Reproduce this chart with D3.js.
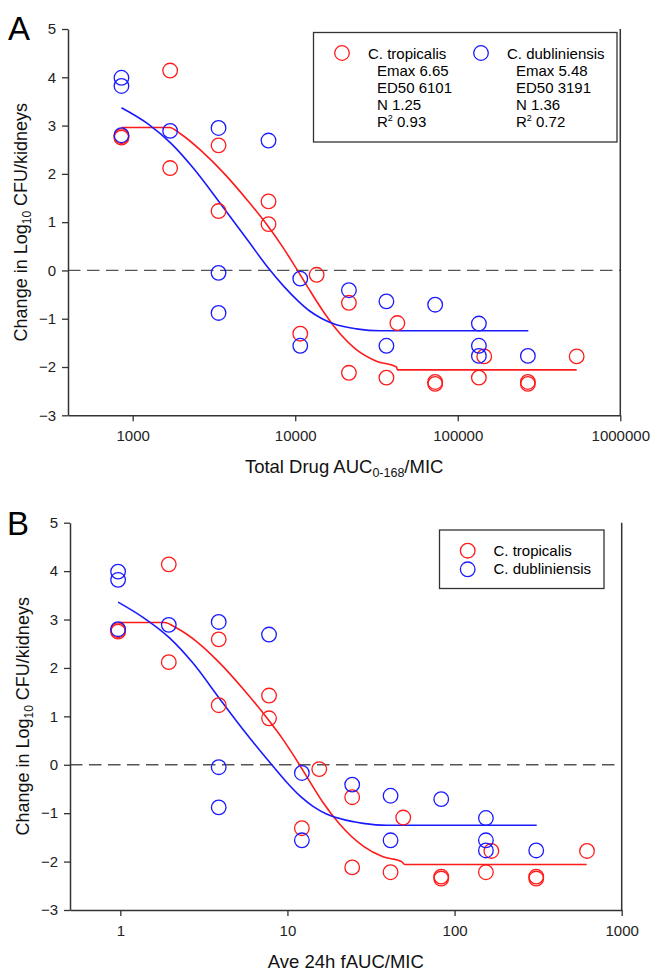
<!DOCTYPE html>
<html>
<head>
<meta charset="utf-8">
<script src="https://cdn.jsdelivr.net/npm/d3@7"></script>
<style>
  html, body { margin: 0; padding: 0; background: #fff; }
  svg { display: block; font-family: "Liberation Sans", Arial, sans-serif; }
</style>
</head>
<body>
<div id="chart"></div>
<script>
// y ticks shared by both panels
const yTicks = [-3, -2, -1, 0, 1, 2, 3, 4, 5]
const xTicksA = [1000, 10000, 100000, 1000000]
const xTicksB = [1, 10, 100, 1000]

// C. tropicalis observations
const tropY = [2.78, 2.75, 4.14, 2.12, 2.59, 1.23, 1.43, 0.96, -1.31, -0.09, -0.67, -2.12, -2.22, -1.09, -2.31, -2.35, -2.22, -1.78, -2.31, -2.35, -1.78]
const tropXA = [853, 853, 1700, 1700, 3375, 3375, 6850, 6850, 10740, 13550, 21400, 21400, 36400, 42500, 72600, 72600, 134900, 145500, 270000, 270000, 539000]
const tropXB = [0.97, 0.97, 1.95, 1.95, 3.88, 3.88, 7.76, 7.76, 12.2, 15.5, 24.4, 24.4, 41.4, 49.3, 83.2, 83.2, 154, 166, 308, 308, 620]

// C. dubliniensis observations
const dublY = [3.99, 3.82, 2.80, 2.89, 2.95, -0.05, -0.88, 2.69, -0.17, -1.56, -0.41, -0.64, -1.56, -0.71, -1.10, -1.56, -1.77, -1.77]
const dublXA = [853, 853, 853, 1700, 3375, 3375, 3375, 6850, 10740, 10740, 21400, 36400, 36400, 72600, 134900, 134900, 134900, 270000]
const dublXB = [0.97, 0.97, 0.97, 1.95, 3.88, 3.88, 3.88, 7.76, 12.2, 12.2, 24.4, 41.4, 41.4, 83.2, 154, 154, 154, 308]

// fitted curves
const tropFitXA = [853, 1683, 1986, 2636, 3673, 5117, 6792, 8204, 9908, 12023, 14825, 17906, 23768, 31623, 41976, 42500, 539000]
const tropFitYA = [2.96, 2.96, 2.82, 2.48, 2.00, 1.44, 0.92, 0.53, 0.10, -0.36, -0.84, -1.22, -1.64, -1.88, -2.00, -2.06, -2.06]
const dublFitXA = [853, 1236, 1722, 2399, 3508, 5117, 6792, 8511, 10471, 12274, 14454, 17061, 23768, 33113, 271700]
const dublFitYA = [3.37, 3.04, 2.63, 2.09, 1.36, 0.62, 0.06, -0.33, -0.64, -0.84, -0.99, -1.10, -1.21, -1.25, -1.25]

const tropFitXB = [0.97, 1.84, 2.16, 2.85, 3.94, 5.42, 7.48, 9.42, 11.32, 13.9, 16.33, 20.56, 28.38, 37.33, 48.19, 50.4, 617]
const tropFitYB = [2.94, 2.94, 2.83, 2.55, 2.10, 1.57, 0.98, 0.52, 0.10, -0.40, -0.78, -1.23, -1.68, -1.90, -2.00, -2.06, -2.06]
const dublFitXB = [0.97, 1.36, 1.97, 2.72, 3.94, 5.68, 7.83, 9.77, 12.02, 14.22, 16.98, 20.56, 28.38, 39.17, 310]
const dublFitYB = [3.36, 3.05, 2.62, 2.10, 1.36, 0.64, 0.05, -0.34, -0.66, -0.86, -1.01, -1.11, -1.21, -1.25, -1.25]

const RED = '#ff1a1a'
const BLUE = '#1a1aff'
const AXIS = '#333'

const W = 653, H = 973
const svg = d3.select('#chart').append('svg')
  .attr('width', W).attr('height', H)

function zip(xs, ys) { return xs.map((x, i) => ({ x, y: ys[i] })) }

function drawPanel(cfg) {
  const x = d3.scaleLog().domain(cfg.xDomain).range([cfg.left, cfg.right])
  const y = d3.scaleLinear().domain([-3, 5]).range([cfg.bottom, cfg.top])
  const g = svg.append('g')

  // zero reference line
  g.append('line')
    .attr('x1', cfg.left).attr('x2', cfg.right)
    .attr('y1', y(0)).attr('y2', y(0))
    .attr('stroke', '#555').attr('stroke-width', 1.3)
    .attr('stroke-dasharray', '12.5,6.5')

  // axes
  const yAxis = g.append('g')
    .attr('transform', `translate(${cfg.left},0)`)
    .call(d3.axisLeft(y).tickValues(yTicks).tickFormat(d3.format('d')).tickSize(6).tickSizeOuter(0).tickPadding(6))
  const xAxis = g.append('g')
    .attr('transform', `translate(0,${cfg.bottom})`)
    .call(d3.axisBottom(x).tickValues(cfg.xTicks).tickFormat(d3.format('d')).tickSize(6).tickSizeOuter(0).tickPadding(9))
  for (const a of [yAxis, xAxis]) {
    a.select('.domain').attr('stroke', AXIS).attr('stroke-width', 1.5)
    a.selectAll('.tick line').attr('stroke', AXIS).attr('stroke-width', 1.3)
    a.selectAll('.tick text').attr('fill', '#222').style('font-size', '15px')
      .style('font-family', '"Liberation Sans", Arial, sans-serif')
  }
  g.append('line')
    .attr('x1', cfg.right).attr('x2', cfg.right)
    .attr('y1', y(5)).attr('y2', cfg.bottom)
    .attr('stroke', AXIS).attr('stroke-width', 1.5)

  // fitted curves
  const line = d3.line().x(d => x(d.x)).y(d => y(d.y)).curve(d3.curveMonotoneX)
  g.append('path').datum(zip(cfg.tropFitX, cfg.tropFitY))
    .attr('d', line).attr('fill', 'none').attr('stroke', RED).attr('stroke-width', 1.6)
  g.append('path').datum(zip(cfg.dublFitX, cfg.dublFitY))
    .attr('d', line).attr('fill', 'none').attr('stroke', BLUE).attr('stroke-width', 1.6)

  // observations
  g.append('g').selectAll('circle').data(zip(cfg.tropX, tropY)).join('circle')
    .attr('cx', d => x(d.x)).attr('cy', d => y(d.y)).attr('r', 7.3)
    .attr('fill', 'none').attr('stroke', RED).attr('stroke-width', 1.3)
  g.append('g').selectAll('circle').data(zip(cfg.dublX, dublY)).join('circle')
    .attr('cx', d => x(d.x)).attr('cy', d => y(d.y)).attr('r', 7.3)
    .attr('fill', 'none').attr('stroke', BLUE).attr('stroke-width', 1.3)

  // panel letter
  g.append('text').attr('x', cfg.letterX).attr('y', cfg.letterY)
    .style('font-size', '33px').attr('fill', '#000').text(cfg.letter)

  // y title
  const yt = g.append('text')
    .attr('transform', `translate(${cfg.left - 41},${(cfg.top + cfg.bottom) / 2}) rotate(-90)`)
    .attr('text-anchor', 'middle').style('font-size', '18px').attr('fill', '#111')
  yt.append('tspan').text('Change in Log')
  yt.append('tspan').text('10').style('font-size', '12px').attr('dy', 4)
  yt.append('tspan').text(' CFU/kidneys').attr('dy', -4)

  // x title
  const xt = g.append('text')
    .attr('x', (cfg.left + cfg.right) / 2).attr('y', cfg.bottom + 58)
    .attr('text-anchor', 'middle').style('font-size', '18.5px').attr('fill', '#111')
  cfg.xTitle.forEach(p => {
    const t = xt.append('tspan').text(p.t)
    if (p.sub) t.style('font-size', '12.5px').attr('dy', 4)
    else if (p.back) t.attr('dy', -4)
  })

  return { x, y, g }
}

const pA = drawPanel({
  letter: 'A', letterX: 8, letterY: 40,
  left: 68, right: 620.3, top: 29, bottom: 415.3,
  xDomain: [400, 1000000], xTicks: xTicksA,
  tropX: tropXA, dublX: dublXA,
  tropFitX: tropFitXA, tropFitY: tropFitYA, dublFitX: dublFitXA, dublFitY: dublFitYA,
  xTitle: [{ t: 'Total Drug AUC' }, { t: '0-168', sub: true }, { t: '/MIC', back: true }]
})

const pB = drawPanel({
  letter: 'B', letterX: 7, letterY: 535,
  left: 70, right: 621.7, top: 522.7, bottom: 910,
  xDomain: [0.5, 1000], xTicks: xTicksB,
  tropX: tropXB, dublX: dublXB,
  tropFitX: tropFitXB, tropFitY: tropFitYB, dublFitX: dublFitXB, dublFitY: dublFitYB,
  xTitle: [{ t: 'Ave 24h fAUC/MIC' }]
})

// legend A with fit parameters
const legA = [
  { name: 'C. tropicalis', color: RED, lines: ['Emax 6.65', 'ED50 6101', 'N 1.25', '0.93'] },
  { name: 'C. dubliniensis', color: BLUE, lines: ['Emax 5.48', 'ED50 3191', 'N 1.36', '0.72'] }
]
const la = pA.g.append('g')
la.append('rect').attr('x', 313.5).attr('y', 32.5).attr('width', 303.5).attr('height', 109.5)
  .attr('fill', '#fff').attr('stroke', AXIS).attr('stroke-width', 1.3)
legA.forEach((s, i) => {
  const ox = 342 + i * 139
  la.append('circle').attr('cx', ox).attr('cy', 53).attr('r', 7.3)
    .attr('fill', 'none').attr('stroke', s.color).attr('stroke-width', 1.3)
  la.append('text').attr('x', ox + 26).attr('y', 58.5).style('font-size', '15px').text(s.name)
  s.lines.forEach((l, j) => {
    const t = la.append('text').attr('x', ox + 35).attr('y', 75.5 + j * 17).style('font-size', '15px')
    if (j === 3) {
      t.append('tspan').text('R')
      t.append('tspan').text('2').style('font-size', '9px').attr('dy', -6)
      t.append('tspan').text(' ' + l).attr('dy', 6)
    } else t.text(l)
  })
})

// legend B
const legB = [{ name: 'C. tropicalis', color: RED }, { name: 'C. dubliniensis', color: BLUE }]
const lb = pB.g.append('g')
lb.append('rect').attr('x', 439.5).attr('y', 530).attr('width', 164.5).attr('height', 58.5)
  .attr('fill', '#fff').attr('stroke', AXIS).attr('stroke-width', 1.3)
legB.forEach((s, i) => {
  lb.append('circle').attr('cx', 467.7).attr('cy', 550.7 + i * 18.6).attr('r', 7.3)
    .attr('fill', 'none').attr('stroke', s.color).attr('stroke-width', 1.3)
  lb.append('text').attr('x', 493.5).attr('y', 556 + i * 18.3).style('font-size', '15px').text(s.name)
})
</script>
</body>
</html>
